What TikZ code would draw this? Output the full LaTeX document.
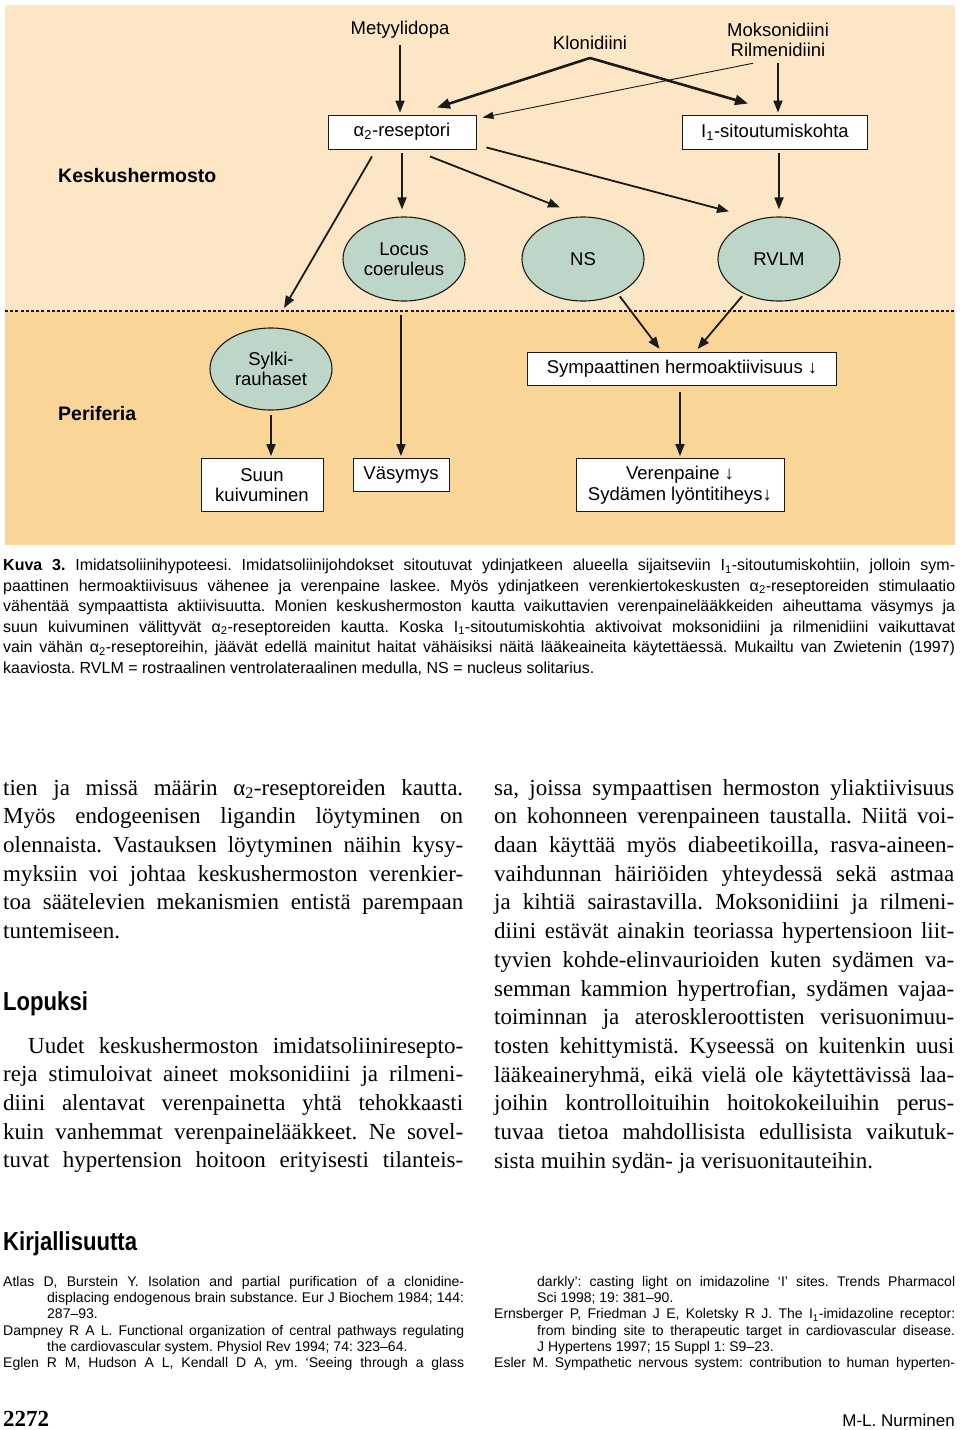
\documentclass[tikz,border=0pt]{standalone}
\usepackage{fontspec}
\setmainfont{Liberation Serif}
\newfontfamily\diafont{Liberation Sans}
\newfontfamily\headfont[FakeStretch=0.85]{Liberation Sans}
\usepackage{xcolor}
\definecolor{cnsbg}{HTML}{FCE6C6}
\definecolor{perbg}{HTML}{F9D598}
\definecolor{nucfill}{HTML}{BDD6C7}
\definecolor{inkgray}{HTML}{1A1A1A}
\usetikzlibrary{arrows.meta, shapes.geometric, positioning}
\hyphenpenalty=10000
\exhyphenpenalty=10000
\tolerance=10000
\frenchspacing
\tikzset{
  rbox/.style ={rectangle, draw=inkgray, line width=0.9pt, fill=white, align=center, inner sep=2pt,
                font=\diafont\fontsize{18.5}{20.5}\selectfont},
  nuc/.style  ={ellipse, draw=inkgray, line width=1.1pt, fill=nucfill, align=center, inner sep=0pt,
                minimum width=122pt, minimum height=84pt, font=\diafont\fontsize{18.5}{20.5}\selectfont},
  dlbl/.style ={align=center, inner sep=3pt, font=\diafont\fontsize{18.5}{20.5}\selectfont},
  zone/.style ={anchor=west, inner sep=0pt, font=\diafont\bfseries\fontsize{19.5}{21}\selectfont},
  darr/.style ={-{Triangle[length=12pt,width=9pt]}, line width=1.8pt, color=inkgray, shorten >=2pt},
  darrk/.style={-{Triangle[length=13pt,width=10pt]}, line width=2.6pt, color=inkgray},
  darrt/.style={-{Triangle[length=11pt,width=7pt]}, line width=0.9pt, color=inkgray},
  dotline/.style={line width=2.6pt, dash pattern=on 3pt off 2.2pt, color=inkgray},
  captxt/.style={anchor=north west, inner sep=0pt, text width=952pt, align=justify,
                 font=\diafont\fontsize{16}{20.5}\selectfont},
  bodytxt/.style={anchor=north west, inner sep=0pt, text width=460pt, align=justify,
                  font=\fontsize{23}{28.7}\selectfont},
  reftxt/.style={anchor=north west, inner sep=0pt, text width=461pt, align=justify,
                 font=\diafont\fontsize{14}{16.3}\selectfont},
  headtxt/.style={anchor=base west, inner sep=0pt, font=\headfont\bfseries\fontsize{26}{28}\selectfont},
}

\begin{document}
\begin{tikzpicture}[x=1pt, y=-1pt]
  \useasboundingbox (0,0) rectangle (960,1430);
  \fill[white] (0,0) rectangle (960,1430);
  \fill[cnsbg] (5,5) rectangle (955,311);
  \fill[perbg] (5,311) rectangle (955,545);
  \draw[dotline] (5,311) -- (955,311);

  \node[dlbl] (metyy) at (400,30) {Metyylidopa};
  \node[dlbl] (kloni) at (590,43) {Klonidiini};
  \node[dlbl] (mokso) at (778,40) {Moksonidiini\\Rilmenidiini};
  \node[rbox, minimum width=148pt, minimum height=34pt] (alfa) at (402,132) {α\textsubscript{2}-reseptori};
  \node[rbox, minimum width=185pt, minimum height=34pt] (ione) at (775,132) {I\textsubscript{1}-sitoutumiskohta};
  \node[zone] (kesku) at (58,176) {Keskushermosto};
  \node[nuc] (locus) at (404,259) {Locus\\coeruleus};
  \node[nuc] (ns) at (583,259) {NS};
  \node[nuc] (rvlm) at (779,259) {RVLM};
  \node[nuc, minimum height=82pt] (sylki) at (271,369) {Sylki-\\rauhaset};
  \node[rbox, minimum width=309pt, minimum height=33pt] (symp) at (682,369) {Sympaattinen hermoaktiivisuus ↓};
  \node[zone] (perif) at (58,414) {Periferia};
  \node[rbox, minimum width=122pt, minimum height=53pt] (suun) at (262,485) {Suun\\kuivuminen};
  \node[rbox, minimum width=96pt, minimum height=33pt] (vasy) at (401,475) {Väsymys};
  \node[rbox, minimum width=208pt, minimum height=53pt] (veren) at (680,485) {Verenpaine ↓\\Sydämen lyöntitiheys↓};
  \coordinate (sylkiin) at (284,308);

  \draw[darr, shorten <=3pt] (metyy) -- (metyy |- alfa.north);
  \draw[darrk] ([yshift=-5pt]kloni.south) -- ([xshift=35pt, yshift=7pt]alfa.north);
  \draw[darrk] ([yshift=-5pt]kloni.south) -- ([xshift=-27pt, yshift=11pt]ione.north);
  \draw[darrt] ([xshift=-25pt, yshift=-3pt]mokso.south) -- ([xshift=6pt, yshift=-3pt]alfa.north east);
  \draw[darr, shorten <=3pt] (mokso.south) -- (mokso.south |- ione.north);
  \draw[darr, shorten <=4pt, shorten >=7pt] (alfa.south) -- (alfa.south |- locus.north);
  \draw[darr, shorten >=0pt] ([xshift=28pt, yshift=-7pt]alfa.south) -- ([xshift=-23pt, yshift=9pt]ns.north);
  \draw[darr, shorten >=0pt] ([xshift=10pt, yshift=2pt]alfa.south east) -- ([xshift=-50pt, yshift=5pt]rvlm.north);
  \draw[darr, shorten >=0pt] ([xshift=-30pt, yshift=-7pt]alfa.south) -- (sylkiin);
  \draw[darr, shorten <=4pt, shorten >=7pt] (rvlm |- ione.south) -- (rvlm.north);
  \draw[darr, shorten <=13pt] (vasy |- locus.south) -- (vasy.north);
  \draw[darr, shorten <=3pt, shorten >=4pt] (ns.-45) -- ([xshift=-20pt]symp.north);
  \draw[darr, shorten <=3pt, shorten >=4pt] (rvlm.-135) -- ([xshift=13pt]symp.north);
  \draw[darr, shorten <=4pt] (sylki.south) -- (sylki.south |- suun.north);
  \draw[darr, shorten <=6pt] (veren |- symp.south) -- (veren.north);

  \node[captxt] (caption) at (3,559) {{\bfseries Kuva 3.} Imidatsoliinihypoteesi. Imidatsoliinijohdokset sitoutuvat ydinjatkeen alueella sijaitseviin I\textsubscript{1}-sitoutumiskohtiin, jolloin sym-\linebreak paattinen hermoaktiivisuus vähenee ja verenpaine laskee. Myös ydinjatkeen verenkiertokeskusten α\textsubscript{2}-reseptoreiden stimulaatio\linebreak vähentää sympaattista aktiivisuutta. Monien keskushermoston kautta vaikuttavien verenpainelääkkeiden aiheuttama väsymys ja\linebreak suun kuivuminen välittyvät α\textsubscript{2}-reseptoreiden kautta. Koska I\textsubscript{1}-sitoutumiskohtia aktivoivat moksonidiini ja rilmenidiini vaikuttavat\linebreak vain vähän α\textsubscript{2}-reseptoreihin, jäävät edellä mainitut haitat vähäisiksi näitä lääkeaineita käytettäessä. Mukailtu van Zwietenin (1997)\linebreak kaaviosta. RVLM = rostraalinen ventrolateraalinen medulla, NS = nucleus solitarius.};

  \node[bodytxt] (leftcol) at (3,779) {tien ja missä määrin α\textsubscript{2}-reseptoreiden kautta.\linebreak Myös endogeenisen ligandin löytyminen on\linebreak olennaista. Vastauksen löytyminen näihin kysy-\linebreak myksiin voi johtaa keskushermoston verenkier-\linebreak toa säätelevien mekanismien entistä parempaan\linebreak tuntemiseen.};
  \node[headtxt] (lopuksi) at (3,1010) {Lopuksi};
  \node[bodytxt] (uudet) at (3,1037) {\hspace*{25pt}Uudet keskushermoston imidatsoliiniresepto-\linebreak reja stimuloivat aineet moksonidiini ja rilmeni-\linebreak diini alentavat verenpainetta yhtä tehokkaasti\linebreak kuin vanhemmat verenpainelääkkeet. Ne sovel-\linebreak tuvat hypertension hoitoon erityisesti tilanteis-\parfillskip=0pt\par};
  \node[bodytxt] (rightcol) at (494,779) {sa, joissa sympaattisen hermoston yliaktiivisuus\linebreak on kohonneen verenpaineen taustalla. Niitä voi-\linebreak daan käyttää myös diabeetikoilla, rasva-aineen-\linebreak vaihdunnan häiriöiden yhteydessä sekä astmaa\linebreak ja kihtiä sairastavilla. Moksonidiini ja rilmeni-\linebreak diini estävät ainakin teoriassa hypertensioon liit-\linebreak tyvien kohde-elinvaurioiden kuten sydämen va-\linebreak semman kammion hypertrofian, sydämen vajaa-\linebreak toiminnan ja ateroskleroottisten verisuonimuu-\linebreak tosten kehittymistä. Kyseessä on kuitenkin uusi\linebreak lääkeaineryhmä, eikä vielä ole käytettävissä laa-\linebreak joihin kontrolloituihin hoitokokeiluihin perus-\linebreak tuvaa tietoa mahdollisista edullisista vaikutuk-\linebreak sista muihin sydän- ja verisuonitauteihin.};

  \node[headtxt] (kirj) at (3,1250) {Kirjallisuutta};
  \node[reftxt] (refleft) at (3,1276) {\hangindent=44pt\hangafter=1 Atlas D, Burstein Y. Isolation and partial purification of a clonidine-\linebreak displacing endogenous brain substance. Eur J Biochem 1984; 144:\linebreak 287–93.\par
    \hangindent=44pt\hangafter=1 Dampney R A L. Functional organization of central pathways regulating\linebreak the cardiovascular system. Physiol Rev 1994; 74: 323–64.\par
    \hangindent=44pt\hangafter=1 Eglen R M, Hudson A L, Kendall D A, ym. ‘Seeing through a glass\parfillskip=0pt\par};
  \node[reftxt] (refright) at (494,1276) {\hangindent=43pt\hangafter=0 darkly’: casting light on imidazoline ‘I’ sites. Trends Pharmacol\linebreak Sci 1998; 19: 381–90.\par
    \hangindent=43pt\hangafter=1 Ernsberger P, Friedman J E, Koletsky R J. The I\textsubscript{1}-imidazoline receptor:\linebreak from binding site to therapeutic target in cardiovascular disease.\linebreak J Hypertens 1997; 15 Suppl 1: S9–23.\par
    \hangindent=43pt\hangafter=1 Esler M. Sympathetic nervous system: contribution to human hyperten-\parfillskip=0pt\par};

  \node[anchor=base west, inner sep=0pt, font=\bfseries\fontsize{23}{25}\selectfont] (sivu) at (3,1426) {2272};
  \node[anchor=base east, inner sep=0pt, font=\diafont\fontsize{17}{19}\selectfont] (tekija) at (955,1426) {M-L. Nurminen};
\end{tikzpicture}
\end{document}
